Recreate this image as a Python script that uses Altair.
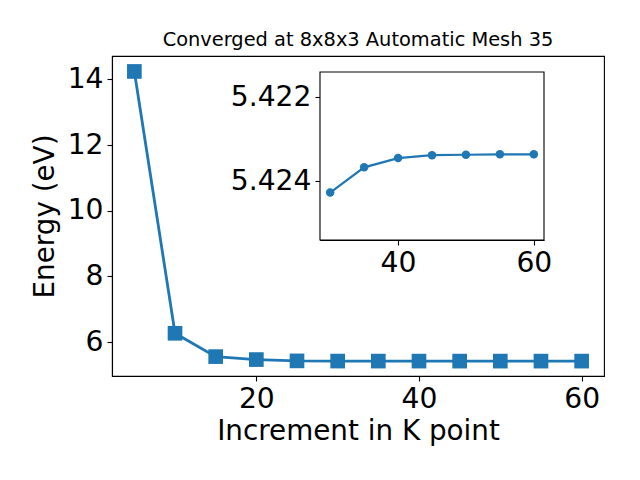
import altair as alt
import pandas as pd

# Main series
kpoints = [5, 10, 15, 20, 25, 30, 35, 40, 45, 50, 55, 60]
energy = [14.24, 6.27, 5.56, 5.47, 5.43, 5.42427, 5.42367, 5.42345, 5.42338, 5.42337, 5.42336, 5.42336]

# Inset series
inset_k = [30, 35, 40, 45, 50, 55, 60]
inset_e = [5.42427, 5.42367, 5.42345, 5.42338, 5.42337, 5.42336, 5.42336]

main_x_ticks = [20, 40, 60]
main_y_ticks = [6, 8, 10, 12, 14]
inset_x_ticks = [40, 60]
inset_y_ticks = [5.422, 5.424]

BLUE = "#1f77b4"
FONT = "DejaVu Sans"
FS = 28.2

main_df = pd.DataFrame({"k": kpoints, "e": energy})
inset_df = pd.DataFrame({"k": inset_k, "e": inset_e})

W, H = 492, 320
# inset box in plot coords
IX0, IX1, IY0, IY1 = 208, 432, 16, 184

main = alt.Chart(main_df).mark_line(
    color=BLUE, strokeWidth=2.8,
    point=alt.OverlayMarkDef(shape="square", size=215, filled=True, color=BLUE, opacity=1),
).encode(
    x=alt.X("k:Q", title="Increment in K point",
            scale=alt.Scale(domain=[2.25, 62.75], nice=False, zero=False),
            axis=alt.Axis(values=main_x_ticks, format="d", orient="bottom")),
    y=alt.Y("e:Q", title="Energy (eV)",
            scale=alt.Scale(domain=[4.97, 14.71], nice=False, zero=False),
            axis=alt.Axis(values=main_y_ticks, format="d", orient="left", titlePadding=8)),
)

box = alt.Chart(pd.DataFrame({"a": [0]})).mark_rect(
    fill="white", stroke="black", strokeWidth=1.1
).encode(
    x=alt.value(IX0), x2=alt.value(IX1), y=alt.value(IY0), y2=alt.value(IY1)
)

inset = alt.Chart(inset_df).mark_line(
    color=BLUE, strokeWidth=2.2,
    point=alt.OverlayMarkDef(shape="circle", size=72, filled=True, color=BLUE, opacity=1),
).encode(
    x=alt.X("k:Q", title=None,
            scale=alt.Scale(domain=[28.5, 61.5], range=[IX0, IX1], nice=False, zero=False),
            axis=alt.Axis(values=inset_x_ticks, format="d", orient="bottom", offset=-(H - IY1))),
    y=alt.Y("e:Q", title=None,
            scale=alt.Scale(domain=[5.4214, 5.4254], range=[IY0, IY1], nice=False, zero=False),
            axis=alt.Axis(values=inset_y_ticks, format=".3f", orient="left", offset=-IX0)),
)

chart = alt.layer(main, box, inset).resolve_scale(
    x="independent", y="independent"
).resolve_axis(
    x="independent", y="independent"
).properties(
    width=W, height=H,
    title=alt.TitleParams("Converged at 8x8x3 Automatic Mesh 35", font=FONT, fontSize=19.4,
                          fontWeight="normal", color="black", offset=6),
    autosize=alt.AutoSizeParams(type="none"),
    padding={"left": 104, "top": 48, "right": 28, "bottom": 96},
).configure_view(
    stroke="black", strokeWidth=1.1
).configure_axis(
    grid=False, domainColor="black", domainWidth=1.1, tickColor="black", tickWidth=1.1,
    tickSize=5, labelColor="black", titleColor="black", labelFont=FONT, titleFont=FONT,
    labelFontSize=FS, titleFontSize=27.8, titleFontWeight="normal", labelPadding=4,
    titlePadding=5, labelFlush=False, labelOverlap=False,
)

chart.save("out.html", embed_options={"renderer": "svg", "actions": False})
